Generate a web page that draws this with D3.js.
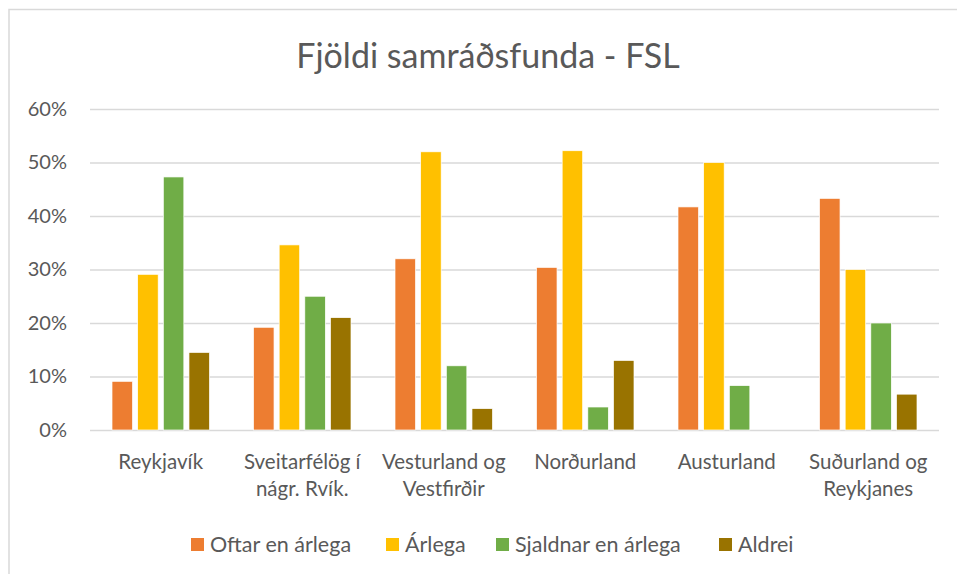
<!DOCTYPE html>
<html>
<head>
<meta charset="utf-8">
<script src="https://cdn.jsdelivr.net/npm/d3@7"></script>
<style>
  body { margin: 0; background: #fff; }
  text { font-family: Lato, "Open Sans", sans-serif; fill: #595959; }
</style>
</head>
<body>
<script>
// data
var categories = ["Reykjavík", "Sveitarfélög í\nnágr. Rvík.", "Vesturland og\nVestfirðir", "Norðurland", "Austurland", "Suðurland og\nReykjanes"];
var seriesNames = ["Oftar en árlega", "Árlega", "Sjaldnar en árlega", "Aldrei"];
var seriesColors = ["#ED7D31", "#FFC000", "#70AD47", "#997300"];
var oftar = [0.091, 0.192, 0.32, 0.304, 0.417, 0.433];
var arlega = [0.291, 0.346, 0.52, 0.522, 0.50, 0.30];
var sjaldnar = [0.473, 0.25, 0.12, 0.043, 0.083, 0.20];
var aldrei = [0.145, 0.21, 0.04, 0.13, 0, 0.067];
var yTicks = [0, 0.1, 0.2, 0.3, 0.4, 0.5, 0.6];
var title = "Fjöldi samráðsfunda - FSL";

var values = [oftar, arlega, sjaldnar, aldrei];

var W = 957, H = 574;
var svg = d3.select("body").append("svg")
	.attr("width", W)
	.attr("height", H);

// chart border
svg.append("rect")
	.attr("x", 9).attr("y", 9.5)
	.attr("width", W + 20).attr("height", H + 20)
	.attr("fill", "#fff")
	.attr("stroke", "#d9d9d9")
	.attr("stroke-width", 1.5);

var x0 = d3.scaleBand().domain(d3.range(categories.length)).range([90, 939]);
var x1 = d3.scaleBand().domain(d3.range(seriesNames.length))
	.range([22, x0.bandwidth() - 22]).paddingInner(0.2);
var y = d3.scaleLinear().domain([0, 0.6]).range([430, 109]);

// gridlines + tick labels
var yAxis = d3.axisLeft(y).tickValues(yTicks).tickFormat(d3.format(".0%"))
	.tickSize(-(939 - 90)).tickPadding(23);
var ga = svg.append("g").attr("transform", "translate(90,0)").call(yAxis);
ga.select(".domain").remove();
ga.selectAll(".tick line").attr("stroke", "#d9d9d9").attr("stroke-width", 1.3);
ga.selectAll(".tick text").attr("font-size", 20).attr("fill", "#595959")
	.style("font-family", "Lato, 'Open Sans', sans-serif");

// bars
var groups = svg.selectAll("g.cat")
	.data(categories)
	.enter()
	.append("g")
	.attr("class", "cat")
	.attr("transform", function(d, i){ return "translate(" + x0(i) + ",0)"; });

groups.selectAll("rect")
	.data(function(d, i){ return values.map(function(s, j){ return {s: j, v: s[i]}; }); })
	.enter()
	.append("rect")
	.attr("x", function(d){ return x1(d.s); })
	.attr("width", x1.bandwidth())
	.attr("y", function(d){ return y(d.v); })
	.attr("height", function(d){ return y(0) - y(d.v); })
	.attr("fill", function(d){ return seriesColors[d.s]; })
	.attr("stroke", function(d){ return d.v > 0 ? "#fff" : "none"; })
	.attr("stroke-width", 0.7);

// category labels
groups.append("text")
	.attr("text-anchor", "middle")
	.attr("font-size", 20.5)
	.selectAll("tspan")
	.data(function(d){ return d.split("\n"); })
	.enter()
	.append("tspan")
	.attr("x", x0.bandwidth() / 2)
	.attr("y", function(d, i){ return 469 + i * 27; })
	.text(function(d){ return d; });

// title
svg.append("text")
	.attr("x", 488).attr("y", 68)
	.attr("text-anchor", "middle")
	.attr("font-size", 34)
	.text(title);

// legend
var legendX = [191, 386, 496, 719];
var leg = svg.selectAll("g.leg")
	.data(seriesNames)
	.enter()
	.append("g")
	.attr("class", "leg")
	.attr("transform", function(d, i){ return "translate(" + legendX[i] + ",538)"; });
leg.append("rect")
	.attr("width", 13).attr("height", 13)
	.attr("fill", function(d, i){ return seriesColors[i]; });
leg.append("text")
	.attr("x", 19).attr("y", 14)
	.attr("font-size", 21.5)
	.text(function(d){ return d; });
</script>
</body>
</html>
